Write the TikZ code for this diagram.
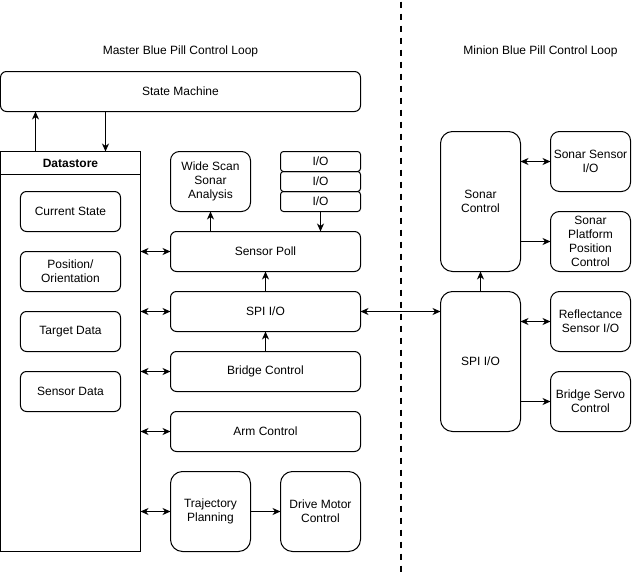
\documentclass[tikz,border=0pt]{standalone}
\usepackage{fontspec}
\setmainfont{Liberation Sans}
\usetikzlibrary{arrows.meta}
\begin{document}
\begin{tikzpicture}[x=1pt,y=-1pt,line width=1pt,
  every node/.style={inner sep=0pt,outer sep=0pt,align=center,
    font=\fontsize{12}{14}\selectfont},
  box/.style={draw,rounded corners=#1},
  box/.default=6pt,
  arr/.style={-{Stealth[length=8pt,width=7pt,inset=2.5pt]}},
  darr/.style={{Stealth[length=8pt,width=7pt,inset=2.5pt]}-{Stealth[length=8pt,width=7pt,inset=2.5pt]}},
  divider/.style={line width=2pt,dash pattern=on 6pt off 6pt}]
\useasboundingbox (-0.5,-0.5) rectangle (640.5,572.5);

% section titles
\node (mtitle) at (180,51) {Master Blue Pill Control Loop};
\node (ntitle) at (540,51) {Minion Blue Pill Control Loop};

% divider between the two boards
\coordinate (divtop) at (400.5,1);
\coordinate (divbot) at (400.5,573);
\draw[divider] (divtop) -- (divbot);

% ---- master board ----
\node[box,minimum width=360pt,minimum height=40pt] (sm) at (180,91) {State Machine};

\node[draw,minimum width=140pt,minimum height=400pt] (ds) at (70,351) {};
\coordinate (dshl) at (0,174);
\draw (dshl) -- (dshl -| ds.east);
\node[font=\fontsize{12}{14}\selectfont\bfseries] (dstitle) at (70,162.5) {Datastore};

\node[box,minimum width=100pt,minimum height=40pt] (cs) at (70,211) {Current State};
\node[box,minimum width=100pt,minimum height=40pt] (po) at (70,271) {Position/\\Orientation};
\node[box,minimum width=100pt,minimum height=40pt] (td) at (70,331) {Target Data};
\node[box,minimum width=100pt,minimum height=40pt] (sd) at (70,391) {Sensor Data};

\node[box=9pt,minimum width=80pt,minimum height=60pt] (ws) at (210,181) {Wide Scan\\Sonar\\Analysis};
\node[box=3pt,minimum width=80pt,minimum height=20pt] (io1) at (320,161) {I/O};
\node[box=3pt,minimum width=80pt,minimum height=20pt] (io2) at (320,181) {I/O};
\node[box=3pt,minimum width=80pt,minimum height=20pt] (io3) at (320,201) {I/O};

\node[box,minimum width=190pt,minimum height=40pt] (sp) at (265,251) {Sensor Poll};
\node[box,minimum width=190pt,minimum height=40pt] (spi) at (265,311) {SPI I/O};
\node[box,minimum width=190pt,minimum height=40pt] (bc) at (265,371) {Bridge Control};
\node[box,minimum width=190pt,minimum height=40pt] (ac) at (265,431) {Arm Control};
\node[box=12pt,minimum width=80pt,minimum height=80pt] (tp) at (210,511) {Trajectory\\Planning};
\node[box=12pt,minimum width=80pt,minimum height=80pt] (dm) at (320,511) {Drive Motor\\Control};

% ---- minion board ----
\node[box=12pt,minimum width=80pt,minimum height=140pt] (msc) at (480,201) {Sonar\\Control};
\node[box=12pt,minimum width=80pt,minimum height=140pt] (mspi) at (480,361) {SPI I/O};
\node[box=9pt,minimum width=80pt,minimum height=60pt] (ss) at (590,161) {Sonar Sensor\\I/O};
\node[box=9pt,minimum width=80pt,minimum height=60pt] (spp) at (590,241) {Sonar\\Platform\\Position\\Control};
\node[box=9pt,minimum width=80pt,minimum height=60pt] (rs) at (590,321) {Reflectance\\Sensor I/O};
\node[box=9pt,minimum width=80pt,minimum height=60pt] (bs) at (590,401) {Bridge Servo\\Control};

% ---- connectors ----
\draw[arr] ([xshift=35pt]ds.north west) -- ([xshift=35pt]ds.north west |- sm.south);
\draw[arr] ([xshift=105pt]sm.south west) -- ([xshift=105pt]sm.south west |- ds.north);
\draw[arr] (ws.south |- sp.north) -- (ws.south);
\draw[arr] (io3.south) -- (io3.south |- sp.north);
\draw[arr] (spi.north) -- (sp.south);
\draw[arr] (bc.north) -- (spi.south);
\draw[arr] (tp.east) -- (dm.west);
\foreach \n in {sp,spi,bc,ac,tp}
  \draw[darr] (ds.east |- \n.west) -- (\n.west);
\draw[darr] (spi.east) -- (spi.east -| mspi.west);

\draw[arr] (mspi.north) -- (msc.south);
\draw[darr] (ss.west -| msc.east) -- (ss.west);
\draw[arr] (spp.west -| msc.east) -- (spp.west);
\draw[darr] (rs.west -| mspi.east) -- (rs.west);
\draw[arr] (bs.west -| mspi.east) -- (bs.west);
\end{tikzpicture}
\end{document}
